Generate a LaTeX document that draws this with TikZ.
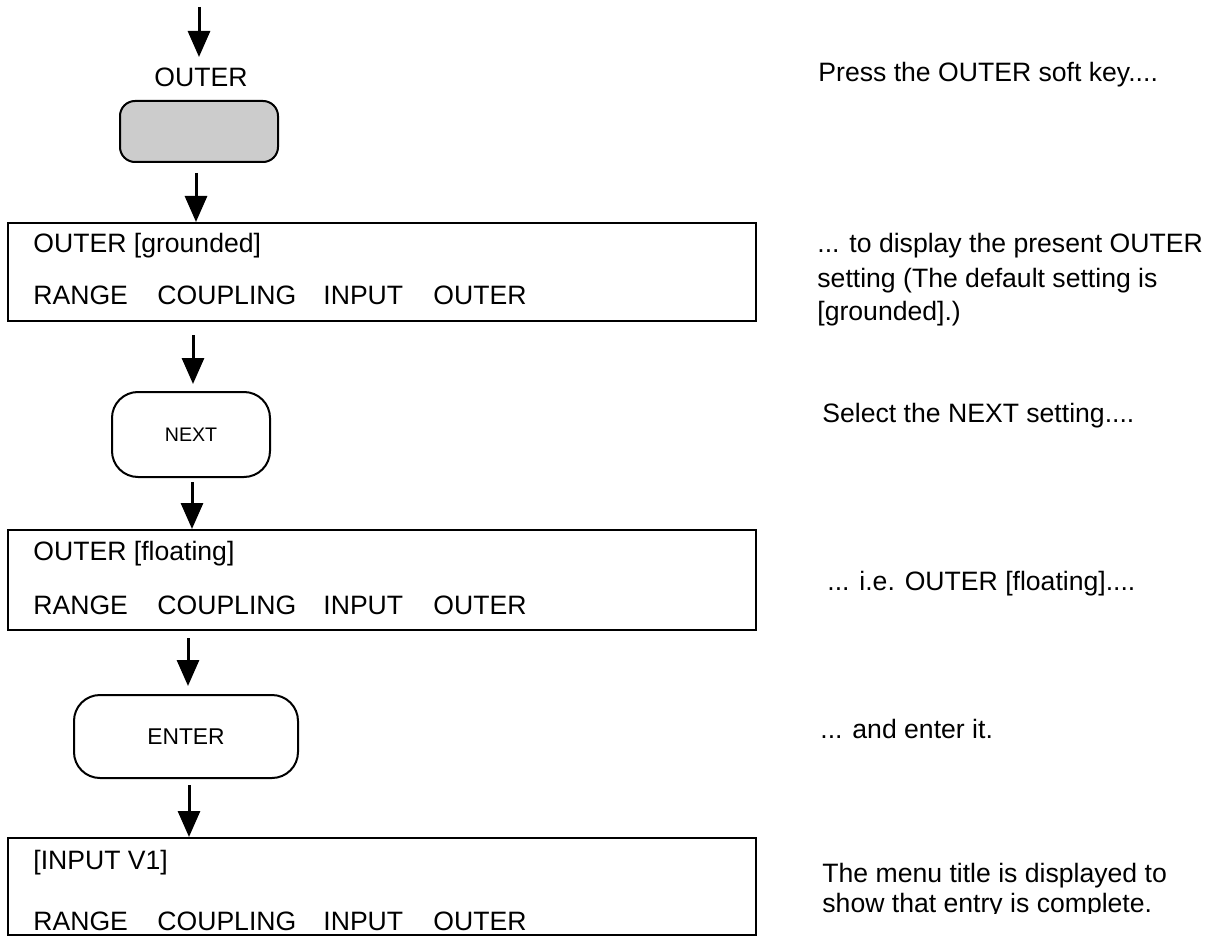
\documentclass[tikz,border=0pt]{standalone}
\usepackage{fontspec}
\setmainfont{Liberation Sans}
\usetikzlibrary{arrows.meta}
\definecolor{keygray}{RGB}{204,204,204}
\begin{document}
\begin{tikzpicture}[x=0.5pt,y=-0.5pt,
  every node/.style={font=\fontsize{13.3pt}{16pt}\selectfont},
  txt/.style={anchor=base west, inner sep=0pt},
  display/.style={draw, line width=1pt, minimum width=374pt, inner sep=0pt},
  softkey/.style={draw, line width=1pt, inner sep=0pt},
  arr/.style={line width=1.5pt, -{Triangle[width=11pt,length=13pt]}}]
\useasboundingbox (0,0) rectangle (1220,936);

% soft keys
\node[txt, anchor=base] (olabel) at (201,87) {OUTER};
\node[softkey, fill=keygray, rounded corners=7.5pt, minimum width=79pt, minimum height=30.5pt] (okey) at (199,131.5) {};
\node[softkey, rounded corners=13pt, minimum width=79pt, minimum height=42.5pt, font=\fontsize{9.8pt}{12pt}\selectfont] (next) at (191,434.5) {NEXT};
\node[softkey, rounded corners=13pt, minimum width=112pt, minimum height=41.5pt, font=\fontsize{11.4pt}{13pt}\selectfont] (enter) at (186,736.5) {ENTER};

% display boxes
\node[display, minimum height=49pt] (box1) at (382,272) {};
\node[display, minimum height=50pt] (box2) at (382,580) {};
\node[display, minimum height=48.5pt] (box3) at (382,886.5) {};

\node[txt] (b1l1) at (33,253) {OUTER [grounded]};
\node[txt] (b1r) at (33,304) {RANGE};
\node[txt] (b1c) at (157,304) {COUPLING};
\node[txt] (b1i) at (323,304) {INPUT};
\node[txt] (b1o) at (433,304) {OUTER};

\node[txt] (b2l1) at (33,560) {OUTER [floating]};
\node[txt] (b2r) at (33,614) {RANGE};
\node[txt] (b2c) at (157,614) {COUPLING};
\node[txt] (b2i) at (323,614) {INPUT};
\node[txt] (b2o) at (433,614) {OUTER};

\node[txt] (b3l1) at (33,869) {[INPUT V1]};
\node[txt] (b3r) at (33,930) {RANGE};
\node[txt] (b3c) at (157,930) {COUPLING};
\node[txt] (b3i) at (323,930) {INPUT};
\node[txt] (b3o) at (433,930) {OUTER};

% arrows
\coordinate (a1s) at (199,7);
\coordinate (a1e) at (199,57);
\coordinate (a2s) at (196,173);
\coordinate (a3s) at (193,335);
\coordinate (a4s) at (192,482);
\coordinate (a5s) at (188,638);
\coordinate (a6s) at (189,785);
\draw[arr] (a1s) -- (a1e);
\draw[arr] (a2s) -- (a2s |- box1.north);
\draw[arr, shorten >=3.5pt] (a3s) -- (a3s |- next.north);
\draw[arr] (a4s) -- (a4s |- box2.north);
\draw[arr, shorten >=4pt] (a5s) -- (a5s |- enter.north);
\draw[arr] (a6s) -- (a6s |- box3.north);

% descriptions
\node[txt] (d1) at (818,82) {Press the OUTER soft key....};
\node[txt] (d2a) at (817,253) {... to display the present OUTER};
\node[txt] (d2b) at (817,287) {setting (The default setting is};
\node[txt] (d2c) at (817,320) {[grounded].)};
\node[txt] (d3) at (822,422) {Select the NEXT setting....};
\node[txt] (d4) at (827,590) {... i.e. OUTER [floating]....};
\node[txt] (d5) at (820,738) {... and enter it.};
\begin{scope}
\clip (760,840) rectangle (1220,913);
\node[txt] (d6a) at (822,882) {The menu title is displayed to};
\node[txt] (d6b) at (822,912) {show that entry is complete.};
\end{scope}
\end{tikzpicture}
\end{document}
